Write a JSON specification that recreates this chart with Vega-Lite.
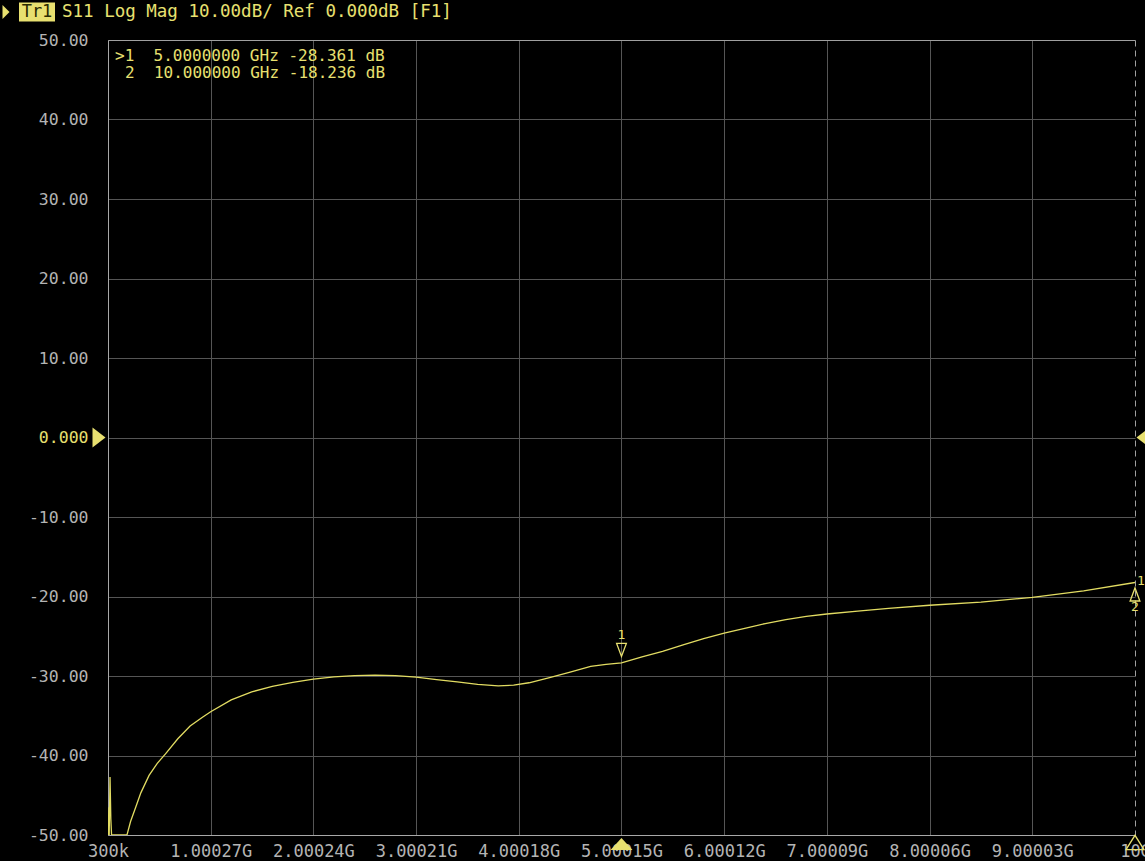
{
  "$schema": "https://vega.github.io/schema/vega-lite/v6.json",
  "width": 1027,
  "height": 795,
  "autosize": {"type": "none"},
  "padding": {"left": 108, "top": 40, "right": 10, "bottom": 26},
  "background": "#000000",
  "config": {
    "view": {"stroke": null},
    "font": "DejaVu Sans Mono"
  },
  "datasets": {
    "trace": [
      {"freq": 0.0003, "db": -46.5},
      {"freq": 0.006, "db": -50},
      {"freq": 0.012, "db": -50},
      {"freq": 0.02, "db": -42.7},
      {"freq": 0.028, "db": -48},
      {"freq": 0.035, "db": -50},
      {"freq": 0.185, "db": -50},
      {"freq": 0.22, "db": -48.3},
      {"freq": 0.27, "db": -46.5},
      {"freq": 0.32, "db": -44.7},
      {"freq": 0.4, "db": -42.5},
      {"freq": 0.48, "db": -41},
      {"freq": 0.56, "db": -39.8},
      {"freq": 0.68, "db": -37.9},
      {"freq": 0.8, "db": -36.3},
      {"freq": 0.92, "db": -35.2},
      {"freq": 1.0, "db": -34.5},
      {"freq": 1.2, "db": -33.0},
      {"freq": 1.4, "db": -32.0},
      {"freq": 1.6, "db": -31.3},
      {"freq": 1.8, "db": -30.8},
      {"freq": 2.0, "db": -30.4},
      {"freq": 2.2, "db": -30.1},
      {"freq": 2.4, "db": -29.95},
      {"freq": 2.6, "db": -29.9},
      {"freq": 2.8, "db": -29.95},
      {"freq": 3.0, "db": -30.15},
      {"freq": 3.2, "db": -30.45},
      {"freq": 3.4, "db": -30.75},
      {"freq": 3.6, "db": -31.05},
      {"freq": 3.8, "db": -31.25},
      {"freq": 3.95, "db": -31.15},
      {"freq": 4.1, "db": -30.85},
      {"freq": 4.3, "db": -30.2},
      {"freq": 4.5, "db": -29.5},
      {"freq": 4.7, "db": -28.8},
      {"freq": 4.85, "db": -28.55},
      {"freq": 5.0, "db": -28.361},
      {"freq": 5.2, "db": -27.6},
      {"freq": 5.4, "db": -26.9},
      {"freq": 5.6, "db": -26.1},
      {"freq": 5.8, "db": -25.3},
      {"freq": 6.0, "db": -24.6},
      {"freq": 6.2, "db": -24.0},
      {"freq": 6.4, "db": -23.4},
      {"freq": 6.6, "db": -22.9},
      {"freq": 6.8, "db": -22.5},
      {"freq": 7.0, "db": -22.2},
      {"freq": 7.3, "db": -21.85},
      {"freq": 7.6, "db": -21.5},
      {"freq": 8.0, "db": -21.1},
      {"freq": 8.5, "db": -20.7},
      {"freq": 9.0, "db": -20.1},
      {"freq": 9.5, "db": -19.3},
      {"freq": 10.0, "db": -18.236}
    ],
    "markers": [
      {"freq": 5.0, "db": -28.361, "id": "1"},
      {"freq": 10.0, "db": -18.236, "id": "2"}
    ],
    "header": [
      {"trace": "Tr1", "info": "S11 Log Mag 10.00dB/ Ref 0.000dB [F1]"}
    ],
    "readout": [
      {"line": ">1\u00a0\u00a05.0000000 GHz -28.361 dB", "row": 1},
      {"line": "2\u00a0\u00a010.000000 GHz -18.236 dB", "row": 2}
    ]
  },
  "layer": [
    {
      "data": {"name": "trace"},
      "mark": {"type": "line", "color": "#e2dc62", "strokeWidth": 1.3, "clip": true},
      "encoding": {
        "x": {
          "field": "freq",
          "type": "quantitative",
          "scale": {"domain": [0.0003, 10], "nice": false, "zero": false},
          "axis": {
            "title": null,
            "orient": "bottom",
            "values": [0.0003, 1.00027, 2.00024, 3.00021, 4.00018, 5.00015, 6.00012, 7.00009, 8.00006, 9.00003, 10],
            "labelExpr": "datum.value < 0.001 ? '300k' : (datum.value > 9.9999 ? '10G' : format(datum.value, '.5f') + 'G')",
            "grid": true,
            "gridColor": {"condition": {"test": "datum.value > 9.9999 || datum.value < 0.001", "value": "#a0a0a0"}, "value": "#555555"},
            "gridDash": {"condition": {"test": "datum.value > 9.9999", "value": [6, 4]}, "value": []},
            "gridWidth": 1,
            "domain": true,
            "domainColor": "#a8a8a8",
            "ticks": false,
            "labelColor": "#b4b4b4",
            "labelFont": "DejaVu Sans Mono",
            "labelFontSize": 17,
            "labelPadding": 8,
            "labelFlush": false,
            "labelOverlap": false,
            "labelBound": false
          }
        },
        "y": {
          "field": "db",
          "type": "quantitative",
          "scale": {"domain": [-50, 50], "nice": false, "zero": false},
          "axis": {
            "title": null,
            "values": [-50, -40, -30, -20, -10, 0, 10, 20, 30, 40, 50],
            "labelExpr": "datum.value === 0 ? '0.000' : (datum.value < 0 ? '-' : '') + format(abs(datum.value), '.2f')",
            "grid": true,
            "gridColor": {"condition": {"test": "datum.value === 50 || datum.value === -50", "value": "#a0a0a0"}, "value": "#555555"},
            "gridWidth": 1,
            "domain": true,
            "domainColor": "#a8a8a8",
            "ticks": false,
            "labelColor": {"condition": {"test": "datum.value === 0", "value": "#e8e070"}, "value": "#b4b4b4"},
            "labelFont": "DejaVu Sans Mono",
            "labelFontSize": 16.5,
            "labelPadding": 20,
            "labelOverlap": false
          }
        }
      }
    },
    {
      "data": {"name": "markers"},
      "transform": [{"filter": "datum.id === '1'"}],
      "mark": {"type": "point", "shape": "M-0.75,-1L0.75,-1L0,1Z", "filled": false, "stroke": "#e8e070", "strokeWidth": 1.3, "size": 169, "yOffset": -13, "opacity": 1},
      "encoding": {
        "x": {"field": "freq", "type": "quantitative"},
        "y": {"field": "db", "type": "quantitative"}
      }
    },
    {
      "data": {"name": "markers"},
      "transform": [{"filter": "datum.id === '1'"}],
      "mark": {"type": "text", "color": "#e8e070", "fontSize": 13, "yOffset": -28, "font": "DejaVu Sans Mono"},
      "encoding": {
        "x": {"field": "freq", "type": "quantitative"},
        "y": {"field": "db", "type": "quantitative"},
        "text": {"field": "id"}
      }
    },
    {
      "data": {"name": "markers"},
      "transform": [{"filter": "datum.id === '2'"}],
      "mark": {"type": "point", "shape": "M-0.75,1L0.75,1L0,-1Z", "filled": false, "stroke": "#e8e070", "strokeWidth": 1.3, "size": 169, "yOffset": 12, "opacity": 1, "clip": false},
      "encoding": {
        "x": {"field": "freq", "type": "quantitative"},
        "y": {"field": "db", "type": "quantitative"}
      }
    },
    {
      "data": {"name": "markers"},
      "transform": [{"filter": "datum.id === '2'"}],
      "mark": {"type": "text", "color": "#e8e070", "fontSize": 13, "yOffset": 25, "font": "DejaVu Sans Mono"},
      "encoding": {
        "x": {"field": "freq", "type": "quantitative"},
        "y": {"field": "db", "type": "quantitative"},
        "text": {"field": "id"}
      }
    },
    {
      "data": {"name": "markers"},
      "transform": [{"filter": "datum.id === '2'"}],
      "mark": {"type": "text", "color": "#e8e070", "fontSize": 13, "yOffset": -1, "xOffset": 6, "font": "DejaVu Sans Mono", "text": "1"},
      "encoding": {
        "x": {"field": "freq", "type": "quantitative"},
        "y": {"field": "db", "type": "quantitative"}
      }
    },
    {
      "data": {"name": "markers"},
      "transform": [{"filter": "datum.id === '1'"}],
      "mark": {"type": "point", "shape": "M-1,0.55L0,-0.55L1,0.55Z", "filled": true, "fill": "#e8e070", "stroke": null, "size": 484, "yOffset": 9, "opacity": 1, "clip": false},
      "encoding": {
        "x": {"field": "freq", "type": "quantitative"},
        "y": {"datum": -50}
      }
    },
    {
      "data": {"name": "markers"},
      "transform": [{"filter": "datum.id === '2'"}],
      "mark": {"type": "point", "shape": "M-1,0.8L0,-0.8L1,0.8Z", "filled": false, "stroke": "#e8e070", "strokeWidth": 1.3, "size": 324, "yOffset": 7.5, "opacity": 1, "clip": false},
      "encoding": {
        "x": {"field": "freq", "type": "quantitative"},
        "y": {"datum": -50}
      }
    },
    {
      "data": {"values": [{"ref": 0}]},
      "mark": {"type": "point", "shape": "M-0.65,-1L0.65,0L-0.65,1Z", "filled": true, "fill": "#e8e070", "stroke": null, "size": 400, "xOffset": -9, "opacity": 1, "clip": false},
      "encoding": {
        "x": {"datum": 0.0003},
        "y": {"field": "ref", "type": "quantitative"}
      }
    },
    {
      "data": {"values": [{"ref": 0}]},
      "mark": {"type": "point", "shape": "M0.65,-1L-0.65,0L0.65,1Z", "filled": true, "fill": "#e8e070", "stroke": null, "size": 400, "xOffset": 8, "opacity": 1, "clip": false},
      "encoding": {
        "x": {"datum": 10},
        "y": {"field": "ref", "type": "quantitative"}
      }
    },
    {
      "data": {"name": "header"},
      "mark": {"type": "point", "shape": "M-1,-0.53L1,-0.53L1,0.53L-1,0.53Z", "filled": true, "fill": "#e8e070", "stroke": null, "size": 1296, "xOffset": -71, "yOffset": -28, "opacity": 1, "clip": false},
      "encoding": {
        "x": {"datum": 0.0003},
        "y": {"datum": 50}
      }
    },
    {
      "data": {"name": "header"},
      "mark": {"type": "text", "color": "#2a2a00", "fontSize": 17, "font": "DejaVu Sans Mono", "xOffset": -71, "yOffset": -28, "align": "center", "baseline": "middle", "clip": false},
      "encoding": {
        "x": {"datum": 0.0003},
        "y": {"datum": 50},
        "text": {"field": "trace"}
      }
    },
    {
      "data": {"name": "header"},
      "mark": {"type": "text", "color": "#e8e070", "fontSize": 17.5, "font": "DejaVu Sans Mono", "xOffset": -46, "yOffset": -28, "align": "left", "baseline": "middle", "clip": false},
      "encoding": {
        "x": {"datum": 0.0003},
        "y": {"datum": 50},
        "text": {"field": "info"}
      }
    },
    {
      "data": {"name": "header"},
      "mark": {"type": "point", "shape": "M-0.5,-1L0.5,0L-0.5,1Z", "filled": true, "fill": "#e8e070", "stroke": null, "size": 196, "xOffset": -102, "yOffset": -28, "opacity": 1, "clip": false},
      "encoding": {
        "x": {"datum": 0.0003},
        "y": {"datum": 50}
      }
    },
    {
      "data": {"name": "readout"},
      "transform": [{"filter": "datum.row === 1"}],
      "mark": {"type": "text", "color": "#e8e070", "fontSize": 16, "font": "DejaVu Sans Mono", "xOffset": 7, "yOffset": 16, "align": "left", "baseline": "middle"},
      "encoding": {
        "x": {"datum": 0.0003},
        "y": {"datum": 50},
        "text": {"field": "line"}
      }
    },
    {
      "data": {"name": "readout"},
      "transform": [{"filter": "datum.row === 2"}],
      "mark": {"type": "text", "color": "#e8e070", "fontSize": 16, "font": "DejaVu Sans Mono", "xOffset": 17, "yOffset": 33, "align": "left", "baseline": "middle"},
      "encoding": {
        "x": {"datum": 0.0003},
        "y": {"datum": 50},
        "text": {"field": "line"}
      }
    }
  ]
}
